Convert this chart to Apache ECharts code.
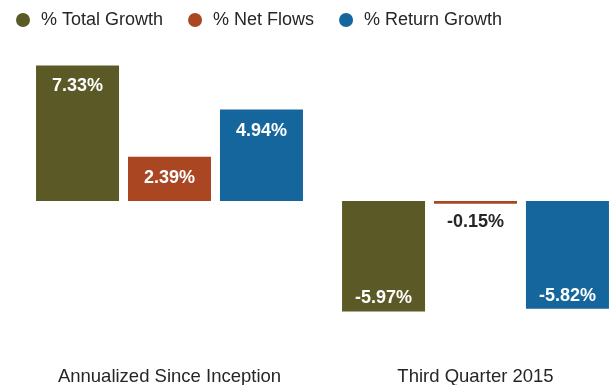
<!DOCTYPE html>
<html>
<head>
<meta charset="utf-8">
<style>
  html, body { margin: 0; padding: 0; background: #fff; }
  #chart { width: 610px; height: 385px; }
</style>
<script src="https://cdn.jsdelivr.net/npm/echarts@6/dist/echarts.min.js"></script>
</head>
<body>
<div id="chart"></div>
<script>
// Growth breakdown, in percent
const categories = ['Annualized Since Inception', 'Third Quarter 2015'];
const seriesNames = ['% Total Growth', '% Net Flows', '% Return Growth'];
const totalGrowth = [7.33, -5.97];
const netFlows = [2.39, -0.15];
const returnGrowth = [4.94, -5.82];

const colors = ['#5b5a27', '#ab4622', '#15669c'];

// Bars too short to hold their own label get it printed just outside.
function labelledPoints(values) {
  return values.map(function (v) {
    let label;
    if (Math.abs(v) < 1) {
      label = { position: v < 0 ? 'bottom' : 'top', color: '#262626', distance: 9 };
    } else if (v < 0) {
      label = { position: 'insideBottom', distance: 4 };
    } else {
      label = { position: 'insideTop', distance: 12 };
    }
    return { value: v, label: label };
  });
}

const chart = echarts.init(document.getElementById('chart'), null, { renderer: 'canvas' });

chart.setOption({
  animation: false,
  color: colors,
  textStyle: { fontFamily: 'Liberation Sans, Arial, sans-serif' },
  legend: {
    left: 11,
    top: 6,
    itemWidth: 14,
    itemHeight: 14,
    itemGap: 25,
    icon: 'circle',
    textStyle: { fontSize: 18, color: '#262626', padding: [2, 0, 0, 6] },
    data: seriesNames
  },
  // the plot runs a little past the right edge of the page
  grid: {
    left: 16.5, width: 612, top: 53, bottom: 36,
    containLabel: false,
    outerBoundsMode: 'none'
  },
  xAxis: {
    type: 'category',
    data: categories,
    axisLine: { show: false },
    axisTick: { show: false },
    axisLabel: { fontSize: 18.5, color: '#262626', margin: 18 }
  },
  yAxis: {
    type: 'value',
    min: -8,
    max: 8,
    show: false,
    splitLine: { show: false }
  },
  series: [totalGrowth, netFlows, returnGrowth].map(function (vals, i) {
    return {
      name: seriesNames[i],
      type: 'bar',
      barWidth: 83,
      barGap: '10.8%',
      data: labelledPoints(vals),
      label: {
        show: true,
        color: '#ffffff',
        fontSize: 18,
        fontWeight: 'bold',
        formatter: function (p) { return p.value.toFixed(2) + '%'; }
      }
    };
  })
});
</script>
</body>
</html>
